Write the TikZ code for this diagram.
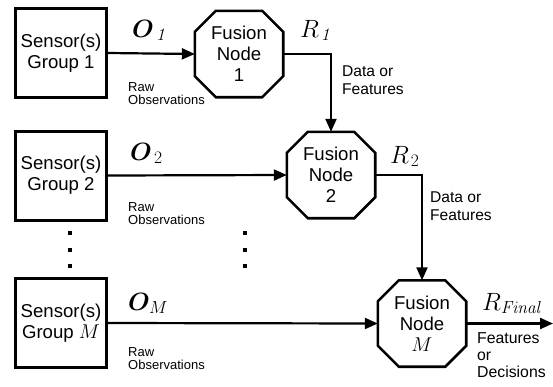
\RequirePackage{fix-cm}
\documentclass[tikz,border=0pt]{standalone}
\usepackage{amsmath}
\usepackage{bm}
\usepackage[no-math]{fontspec}
\setmainfont{Liberation Sans}
\usetikzlibrary{arrows.meta,calc}

\tikzset{
  sensorbox/.style={draw, line width=3pt, minimum width=91pt, minimum height=89pt,
    inner sep=0pt, align=center, font=\fontsize{18.6}{21}\selectfont},
  fusionbox/.style={minimum width=88pt, minimum height=86pt, inner sep=0pt,
    align=center, font=\fontsize{18.6}{21}\selectfont},
  octline/.style={line width=2.6pt, line join=miter},
  flow/.style={line width=2.2pt, -{Triangle[length=13pt,width=11pt]}},
  mathlbl/.style={inner sep=0pt, anchor=base west, font=\fontsize{25}{28}\selectfont},
  rawlbl/.style={inner sep=0pt, anchor=north west, align=left, font=\fontsize{13}{13.5}\selectfont},
  datalbl/.style={inner sep=0pt, anchor=north west, align=left, font=\fontsize{15.6}{18}\selectfont},
  outlbl/.style={inner sep=0pt, anchor=north west, align=left, font=\fontsize{15.8}{17}\selectfont},
  dotmark/.style={fill=black}
}

\begin{document}
\begin{tikzpicture}[x=1pt,y=-1pt]
\useasboundingbox (0,0) rectangle (553,386);

% sensor groups
\node[sensorbox] (S1) at (61,53) {Sensor(s)\\Group 1};
\node[sensorbox] (S2) at (61,175.5) {Sensor(s)\\Group 2};
\node[sensorbox] (SM) at (61,323) {Sensor(s)\\Group {\fontsize{20}{21}\selectfont$M$}};

% fusion nodes (octagonal outline drawn below)
\node[fusionbox] (F1) at (239,54) {Fusion\\Node\\1};
\node[fusionbox] (F2) at (331,175) {Fusion\\Node\\2};
\node[fusionbox] (FM) at (422,323.5) {Fusion\\Node\\{\fontsize{20}{21}\selectfont$M$}};

\def\cut{21}
\foreach \n in {F1,F2,FM}{
  \draw[octline]
    ($(\n.north west)+(\cut,0)$) -- ($(\n.north east)+(-\cut,0)$) --
    ($(\n.north east)+(0,\cut)$) -- ($(\n.south east)+(0,-\cut)$) --
    ($(\n.south east)+(-\cut,0)$) -- ($(\n.south west)+(\cut,0)$) --
    ($(\n.south west)+(0,-\cut)$) -- ($(\n.north west)+(0,\cut)$) -- cycle;
}

% raw observations into the fusion nodes
\draw[flow] (S1.east) -- (F1.west);
\draw[flow] (S2.east) -- (F2.west);
\draw[flow] (SM.east) -- (FM.west);

% results passed down the chain
\draw[flow] (F1.east) -| (F2.north);
\draw[flow] (F2.east) -| (FM.north);

% final output
\coordinate (out) at (553,323.5);
\draw[flow] (FM.east) -- (out);

% labels
\node[mathlbl] (lo1) at (132,37) {$\bm{O}_{\mkern3mu\mathit{1}}$};
\node[mathlbl] (lo2) at (130,160) {$\bm{O}_{\mkern3mu 2}$};
\node[mathlbl] (lom) at (128,310) {$\bm{O}_{M}$};
\node[mathlbl] (lr1) at (300,37) {$R_{\mkern2mu\mathit{1}}$};
\node[mathlbl] (lr2) at (390,163) {$R_{\mkern2mu 2}$};
\node[mathlbl] (lrf) at (482,310) {$R_{\mathit{Final}}$};

\node[rawlbl] (raw1) at (128,82) {Raw\\Observations};
\node[rawlbl] (raw2) at (128,202) {Raw\\Observations};
\node[rawlbl] (rawm) at (128,347) {Raw\\Observations};

\node[datalbl] (d1) at (342,66) {Data or\\Features};
\node[datalbl] (d2) at (430,192) {Data or\\Features};

\node[outlbl] (dec) at (477,332) {Features\\or\\Decisions};

% vertical ellipses between group 2 and group M
\foreach \yy in {233,249.5,266}{
  \fill[dotmark] (68,\yy-2) rectangle (72,\yy+2);
  \fill[dotmark] (243,\yy-2) rectangle (247,\yy+2);
}
\end{tikzpicture}
\end{document}
